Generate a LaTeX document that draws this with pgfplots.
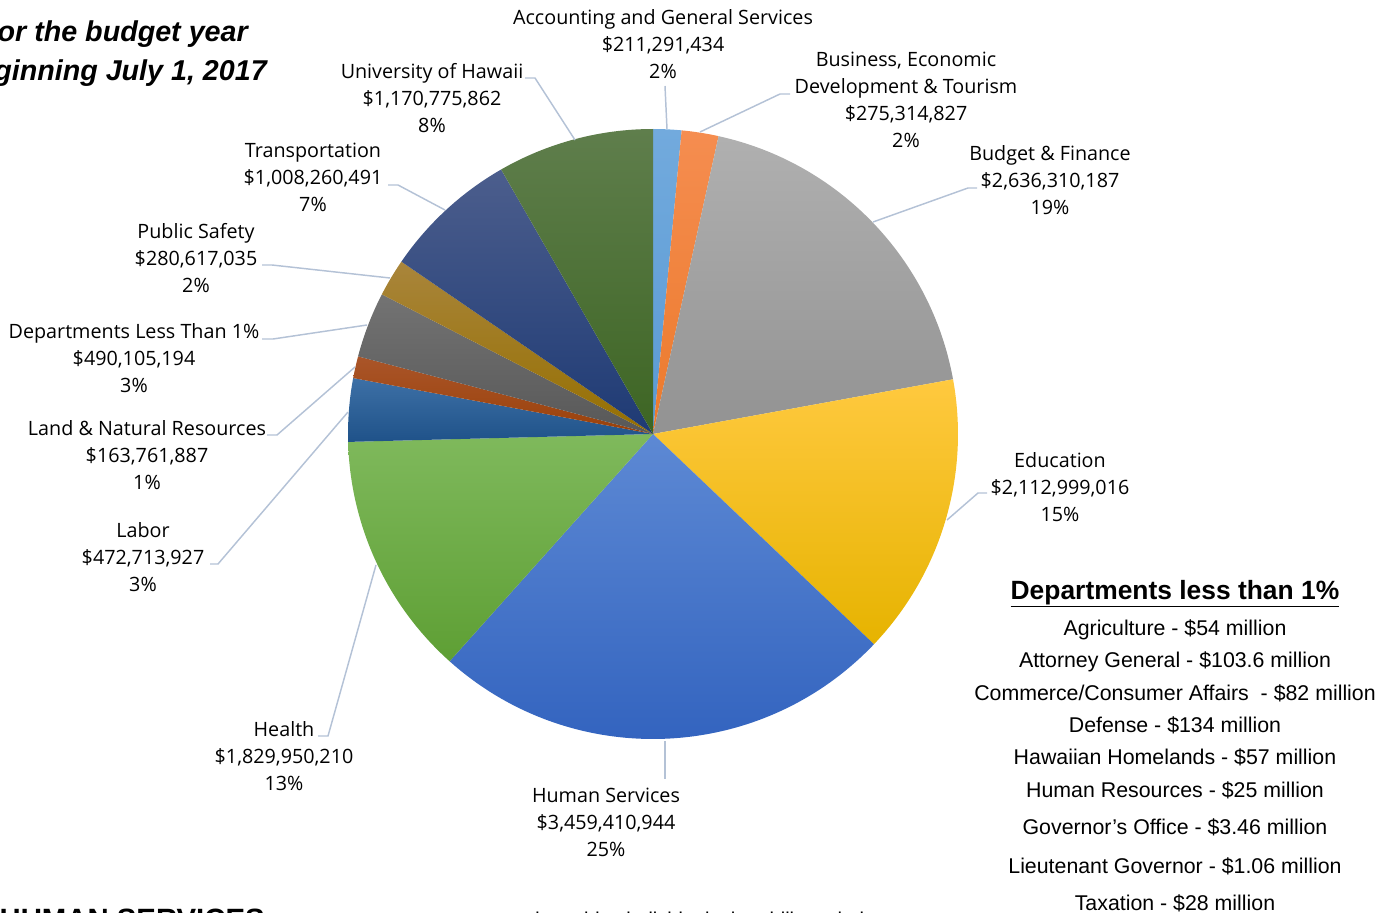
\documentclass[border=0pt]{standalone}
\usepackage{pgfplots}
\usepackage{pgfplotstable}
\pgfplotsset{compat=1.18}
\usepackage{fontspec}
\setmainfont{Open Sans}
\newfontfamily\arial{Liberation Sans}

% gradient colours of the slices (top / bottom)
\definecolor{cAt}{HTML}{72AADD}\definecolor{cAb}{HTML}{5A9AD4}
\definecolor{cBt}{HTML}{F58D50}\definecolor{cBb}{HTML}{EC7A2C}
\definecolor{cCt}{HTML}{B0B0B0}\definecolor{cCb}{HTML}{929292}
\definecolor{cDt}{HTML}{FFC93F}\definecolor{cDb}{HTML}{E6B300}
\definecolor{cEt}{HTML}{5D89D4}\definecolor{cEb}{HTML}{2F60BD}
\definecolor{cFt}{HTML}{7FB95C}\definecolor{cFb}{HTML}{5E9F34}
\definecolor{cGt}{HTML}{3D70A6}\definecolor{cGb}{HTML}{1F5289}
\definecolor{cHt}{HTML}{AA5529}\definecolor{cHb}{HTML}{9A410A}
\definecolor{cIt}{HTML}{737373}\definecolor{cIb}{HTML}{585858}
\definecolor{cJt}{HTML}{A9853B}\definecolor{cJb}{HTML}{956F00}
\definecolor{cKt}{HTML}{4C5E8D}\definecolor{cKb}{HTML}{1E3A74}
\definecolor{cLt}{HTML}{5F7E4C}\definecolor{cLb}{HTML}{3D6523}
\definecolor{leadc}{HTML}{B4C2D6}

% millions of dollars, clockwise from 12 o'clock
\pgfplotstableread{
value       top  bot
211.291434  cAt  cAb
275.314827  cBt  cBb
2636.310187 cCt  cCb
2112.999016 cDt  cDb
3459.410944 cEt  cEb
1829.950210 cFt  cFb
472.713927  cGt  cGb
163.761887  cHt  cHb
490.105194  cIt  cIb
280.617035  cJt  cJb
1008.260491 cKt  cKb
1170.775862 cLt  cLb
}\budget

\begin{document}
\begin{tikzpicture}[
  lbl/.style={align=center, font=\fontsize{14.8}{20.25}\selectfont, text=black, inner sep=0pt},
  lst/.style={anchor=base, font=\arial\fontsize{16}{18}\selectfont, inner sep=0pt},
  lead/.style={draw=leadc, line width=1.1pt}]
\pgfplotstablegetrowsof{\budget}
\pgfmathtruncatemacro{\lastrow}{\pgfplotsretval-1}
\def\total{0}
\pgfplotsforeachungrouped \i in {0,...,\lastrow}{%
  \pgfplotstablegetelem{\i}{value}\of\budget
  \pgfmathsetmacro\total{\total+\pgfplotsretval}%
}
\begin{axis}[
  x=0.75pt, y=0.75pt,
  xmin=0, xmax=1393, ymin=0, ymax=913,
  y dir=reverse,
  hide axis, clip=false, scale only axis]
\coordinate (SW) at (axis cs:0,913);
\coordinate (NE) at (axis cs:1393,0);
% slices
\def\acc{0}
\pgfplotsforeachungrouped \i in {0,...,\lastrow}{%
  \pgfplotstablegetelem{\i}{value}\of\budget \let\sliceval\pgfplotsretval
  \pgfplotstablegetelem{\i}{top}\of\budget \let\slicetop\pgfplotsretval
  \pgfplotstablegetelem{\i}{bot}\of\budget \let\slicebot\pgfplotsretval
  \pgfmathsetmacro\sa{90-360*(\acc/\total)}%
  \pgfmathsetmacro\acc{\acc+\sliceval}%
  \pgfmathsetmacro\ea{90-360*(\acc/\total)}%
  \edef\temp{\noexpand\path[top color=\slicetop, bottom color=\slicebot]
    (axis cs:653,434) -- ++(\sa:228.75pt) arc[start angle=\sa, end angle=\ea, radius=228.75pt] -- cycle;}%
  \temp
}
% leader lines
\draw[lead] (axis cs:665,86) -- (axis cs:667,129);
\draw[lead] (axis cs:790,94) -- (axis cs:780,94) -- (axis cs:700,132);
\draw[lead] (axis cs:977,188) -- (axis cs:968,188) -- (axis cs:873,222);
\draw[lead] (axis cs:987,493) -- (axis cs:978,493) -- (axis cs:947,520);
\draw[lead] (axis cs:665,741) -- (axis cs:665,779);
\draw[lead] (axis cs:318,736) -- (axis cs:328,736) -- (axis cs:376,565);
\draw[lead] (axis cs:210,564) -- (axis cs:218,564) -- (axis cs:348,412);
\draw[lead] (axis cs:267,435) -- (axis cs:277,435) -- (axis cs:355,367);
\draw[lead] (axis cs:262,339) -- (axis cs:273,339) -- (axis cs:367,325);
\draw[lead] (axis cs:262,265) -- (axis cs:272,265) -- (axis cs:390,278);
\draw[lead] (axis cs:388,185) -- (axis cs:398,185) -- (axis cs:445,210);
\draw[lead] (axis cs:525,78) -- (axis cs:535,78) -- (axis cs:575,140);
% data labels
\node[lbl] at (axis cs:663,44) {Accounting and General Services\\\$211,291,434\\2\%};
\node[lbl] at (axis cs:906,100) {Business, Economic\\Development \& Tourism\\\$275,314,827\\2\%};
\node[lbl] at (axis cs:1050,180) {Budget \& Finance\\\$2,636,310,187\\19\%};
\node[lbl] at (axis cs:1060,487) {Education\\\$2,112,999,016\\15\%};
\node[lbl] at (axis cs:606,822) {Human Services\\\$3,459,410,944\\25\%};
\node[lbl] at (axis cs:284,756) {Health\\\$1,829,950,210\\13\%};
\node[lbl] at (axis cs:143,557) {Labor\\\$472,713,927\\3\%};
\node[lbl] at (axis cs:147,455) {Land \& Natural Resources\\\$163,761,887\\1\%};
\node[lbl] at (axis cs:134,358) {Departments Less Than 1\%\\\$490,105,194\\3\%};
\node[lbl] at (axis cs:196,258) {Public Safety\\\$280,617,035\\2\%};
\node[lbl] at (axis cs:313,177) {Transportation\\\$1,008,260,491\\7\%};
\node[lbl] at (axis cs:432,98) {University of Hawaii\\\$1,170,775,862\\8\%};
% title (cropped, as in the source)
\node[anchor=base east, inner sep=0pt, font=\arial\bfseries\itshape\fontsize{21.5}{24}\selectfont]
  at (axis cs:248,42) {For the budget year};
\node[anchor=base east, inner sep=0pt, font=\arial\bfseries\itshape\fontsize{21.5}{24}\selectfont]
  at (axis cs:267,81) {Beginning July 1, 2017};
% list of small departments
\node[lst, font=\arial\bfseries\fontsize{19.8}{22}\selectfont] at (axis cs:1175,599) {\underline{Departments less than 1\%}};
\node[lst] at (axis cs:1175,635) {Agriculture - \$54 million};
\node[lst] at (axis cs:1175,667) {Attorney General - \$103.6 million};
\node[lst] at (axis cs:1175,700) {Commerce/Consumer Affairs\ \ - \$82 million};
\node[lst] at (axis cs:1175,732) {Defense - \$134 million};
\node[lst] at (axis cs:1175,764) {Hawaiian Homelands - \$57 million};
\node[lst] at (axis cs:1175,797) {Human Resources - \$25 million};
\node[lst] at (axis cs:1175,834) {Governor’s Office - \$3.46 million};
\node[lst] at (axis cs:1175,873) {Lieutenant Governor - \$1.06 million};
\node[lst] at (axis cs:1175,910) {Taxation - \$28 million};
% cropped text at the bottom edge
\node[anchor=base east, inner sep=0pt, font=\arial\bfseries\fontsize{22}{24}\selectfont]
  at (axis cs:265,929) {HUMAN SERVICES};
\node[anchor=base west, inner sep=0pt, font=\arial\fontsize{15}{20}\selectfont]
  at (axis cs:506,926) {and provides individuals the ability to help};
\end{axis}
\pgfresetboundingbox
\useasboundingbox (SW) rectangle (NE);
\end{tikzpicture}
\end{document}
